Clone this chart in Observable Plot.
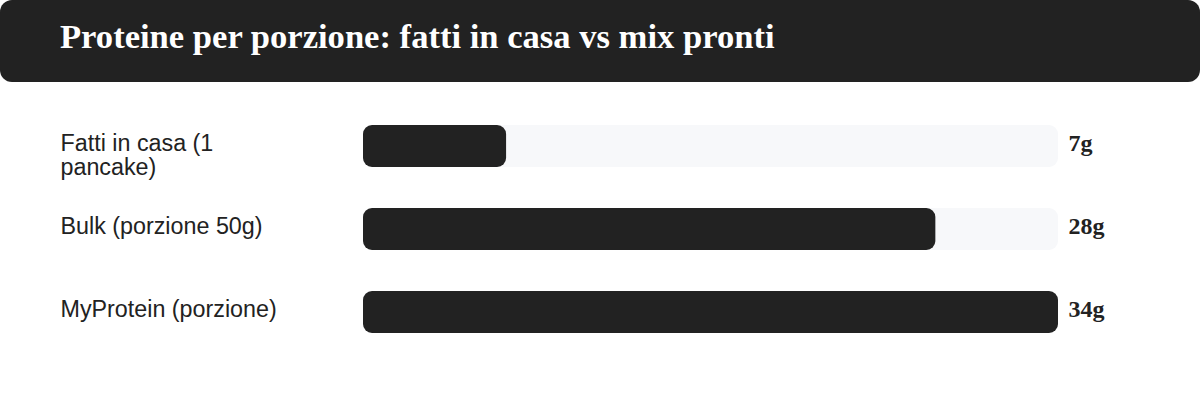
<!DOCTYPE html>
<html>
<head>
<meta charset="utf-8">
<script src="https://cdn.jsdelivr.net/npm/d3@7"></script>
<script src="https://cdn.jsdelivr.net/npm/@observablehq/plot@0.6"></script>
<style>
  html, body { margin: 0; padding: 0; background: #fff; }
  #wrap { width: 1200px; height: 400px; overflow: hidden; }
  #header {
    width: 1200px; height: 82px; background: #222; border-radius: 12px;
    box-sizing: border-box; padding-left: 60px; white-space: nowrap;
    color: #fff; font-family: "Liberation Serif", "Times New Roman", serif;
    font-weight: bold; font-size: 34.6px; line-height: 73px;
  }
</style>
</head>
<body>
<div id="wrap">
  <div id="header">Proteine per porzione: fatti in casa vs mix pronti</div>
  <div id="chart"></div>
</div>
<script>
const categories = ["Fatti in casa (1 pancake)", "Bulk (porzione 50g)", "MyProtein (porzione)"];
const values = [7, 28, 34];
const valueLabels = ["7g", "28g", "34g"];
const maxValue = 34;

const rows = categories.map((c, i) => ({category: c, value: values[i], label: valueLabels[i], max: maxValue}));

const chart = Plot.plot({
  width: 1200,
  height: 318,
  marginLeft: 363,
  marginRight: 142,
  marginTop: 43,
  marginBottom: 67,
  x: {domain: [0, maxValue], axis: null},
  y: {domain: categories, axis: null, paddingInner: 0.494, paddingOuter: 0},
  style: {background: "transparent", overflow: "visible"},
  marks: [
    Plot.barX(rows, {y: "category", x1: 0, x2: "max", fill: "#f7f8fa", rx: 9}),
    Plot.barX(rows, {y: "category", x1: 0, x2: "value", fill: "#222222", rx: 9}),
    Plot.text(rows, {
      y: "category", x: 0, text: "category", dx: -303, dy: -13,
      textAnchor: "start", lineAnchor: "top", lineWidth: 10.4, lineHeight: 1.05,
      fontSize: 23.3, fill: "#222", fontFamily: "Liberation Sans, Arial, Helvetica, sans-serif"
    }),
    Plot.text(rows, {
      y: "category", x: "max", text: "label", dx: 10, dy: -3,
      textAnchor: "start", lineAnchor: "middle",
      fontSize: 24, fontWeight: "bold", fill: "#222", fontFamily: "Liberation Serif, Times New Roman, serif"
    })
  ]
});
document.getElementById("chart").appendChild(chart);
</script>
</body>
</html>
